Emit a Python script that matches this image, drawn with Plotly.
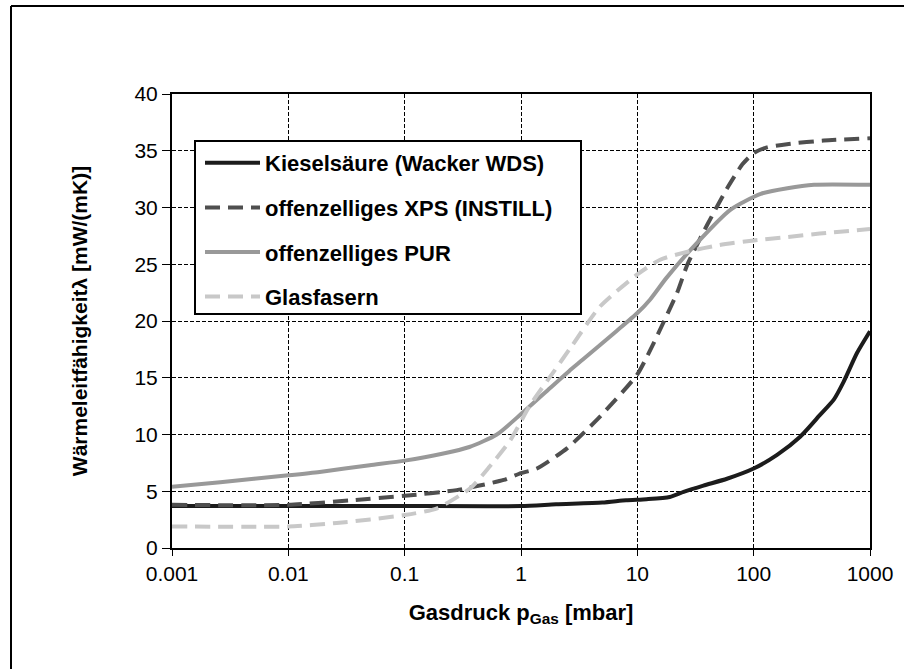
import plotly.graph_objects as go

# ---- data ----
kiesel_x = [0.001, 0.01, 0.1, 1, 2, 5, 8, 12, 19, 25, 37, 59, 100, 159, 251, 370, 490, 590, 775, 1000]
kiesel_y = [3.7, 3.7, 3.7, 3.7, 3.85, 4.0, 4.2, 4.3, 4.5, 4.95, 5.5, 6.1, 7.0, 8.2, 9.8, 11.7, 13.1, 14.6, 17.2, 19.1]

xps_x = [0.001, 0.01, 0.034, 0.1, 0.28, 0.71, 1, 1.37, 2.5, 4.8, 10, 13, 17, 22, 27, 40, 60, 80, 100, 130, 200, 400, 1000]
xps_y = [3.8, 3.8, 4.2, 4.6, 5.1, 6.0, 6.6, 7.0, 8.8, 11.6, 15.3, 17.5, 20.0, 22.5, 25.0, 28.5, 31.8, 33.8, 34.8, 35.3, 35.6, 35.9, 36.1]

pur_x = [0.001, 0.0026, 0.01, 0.0186, 0.05, 0.1, 0.21, 0.36, 0.62, 1.0, 1.78, 2.6, 3.4, 6.6, 10, 12.9, 17.8, 32, 63, 115, 195, 330, 1000]
pur_y = [5.4, 5.8, 6.4, 6.7, 7.3, 7.7, 8.3, 8.9, 10.0, 11.8, 14.1, 15.6, 16.6, 19.1, 20.7, 21.9, 23.8, 26.8, 29.8, 31.2, 31.7, 32.0, 32.0]

glas_x = [0.001, 0.01, 0.026, 0.1, 0.19, 0.37, 0.54, 0.81, 1.2, 1.9, 2.65, 4.8, 10, 15.7, 27, 51, 100, 195, 370, 1000]
glas_y = [1.9, 1.9, 2.2, 2.9, 3.5, 5.3, 7.2, 9.5, 12.6, 15.5, 17.6, 21.3, 24.1, 25.4, 26.1, 26.7, 27.1, 27.4, 27.7, 28.1]

series_names = ["Kieselsäure (Wacker WDS)", "offenzelliges XPS (INSTILL)", "offenzelliges PUR", "Glasfasern"]

x_tickvals = [0.001, 0.01, 0.1, 1, 10, 100, 1000]
x_ticktext = ["0.001", "0.01", "0.1", "1", "10", "100", "1000"]
y_tickvals = [0, 5, 10, 15, 20, 25, 30, 35, 40]

FONT = "Liberation Sans, Arial, sans-serif"

fig = go.Figure()
styles = [
    dict(color="#1c1c1c", width=4, dash="solid", shape="spline", smoothing=0.6),
    dict(color="#4f4f4f", width=4, dash="15px,8px", shape="spline", smoothing=0.6),
    dict(color="#999999", width=4, dash="solid", shape="spline", smoothing=0.6),
    dict(color="#c8c8c8", width=4, dash="15px,8px", shape="spline", smoothing=0.6),
]
data = [(kiesel_x, kiesel_y), (xps_x, xps_y), (pur_x, pur_y), (glas_x, glas_y)]
for i, ((xs, ys), name, st) in enumerate(zip(data, series_names, styles)):
    fig.add_trace(go.Scatter(x=xs, y=ys, mode="lines", name=name, line=st,
                             legendgroup=f"g{i}"))

# plot area in pixels: x 172..870, y 94..548
L, R, T, B = 172, 870, 94, 548
W, H = 904, 669
def px(x): return (x - L) / (R - L)
def py(y): return (B - y) / (B - T)

shapes = [
    # legend box
    dict(type="rect", xref="paper", yref="paper", x0=px(195), x1=px(581), y0=py(314), y1=py(141),
         line=dict(color="black", width=2), fillcolor="white", layer="above"),
    # outer frame (top and left)
    dict(type="line", xref="paper", yref="paper", x0=px(11), x1=px(904), y0=py(6), y1=py(6),
         line=dict(color="black", width=2)),
    dict(type="line", xref="paper", yref="paper", x0=px(11), x1=px(11), y0=py(6), y1=py(669),
         line=dict(color="black", width=2)),
]

fig.update_layout(
    width=W, height=H,
    margin=dict(l=L, r=W - R, t=T, b=H - B),
    paper_bgcolor="white", plot_bgcolor="white",
    font=dict(family=FONT, color="black"),
    shapes=shapes,
    legend=dict(x=px(200), y=py(142), xanchor="left", yanchor="top",
                bgcolor="rgba(0,0,0,0)", borderwidth=0,
                font=dict(family=FONT, size=22, color="black", weight="bold"),
                itemwidth=55, tracegroupgap=13),
    xaxis=dict(type="log", range=[-3, 3], tickvals=x_tickvals, ticktext=x_ticktext,
               tickfont=dict(size=21), ticks="outside", ticklen=6, tickcolor="black",
               showline=True, linecolor="black", linewidth=2, mirror=True,
               showgrid=True, gridcolor="black", gridwidth=1, griddash="4px,2px",
               zeroline=False,
               title=dict(text="Gasdruck p<sub>Gas</sub> [mbar]", standoff=20,
                          font=dict(size=22, weight="bold"))),
    yaxis=dict(range=[0, 40], tickvals=y_tickvals,
               tickfont=dict(size=21), ticks="outside", ticklen=8, tickcolor="black",
               showline=True, linecolor="black", linewidth=2, mirror=True,
               showgrid=True, gridcolor="black", gridwidth=1, griddash="4px,2px",
               zeroline=False,
               title=dict(text="Wärmeleitfähigkeitλ [mW/(mK)]", standoff=41,
                          font=dict(size=21, weight="bold"))),
)

fig.write_html("out.html")
